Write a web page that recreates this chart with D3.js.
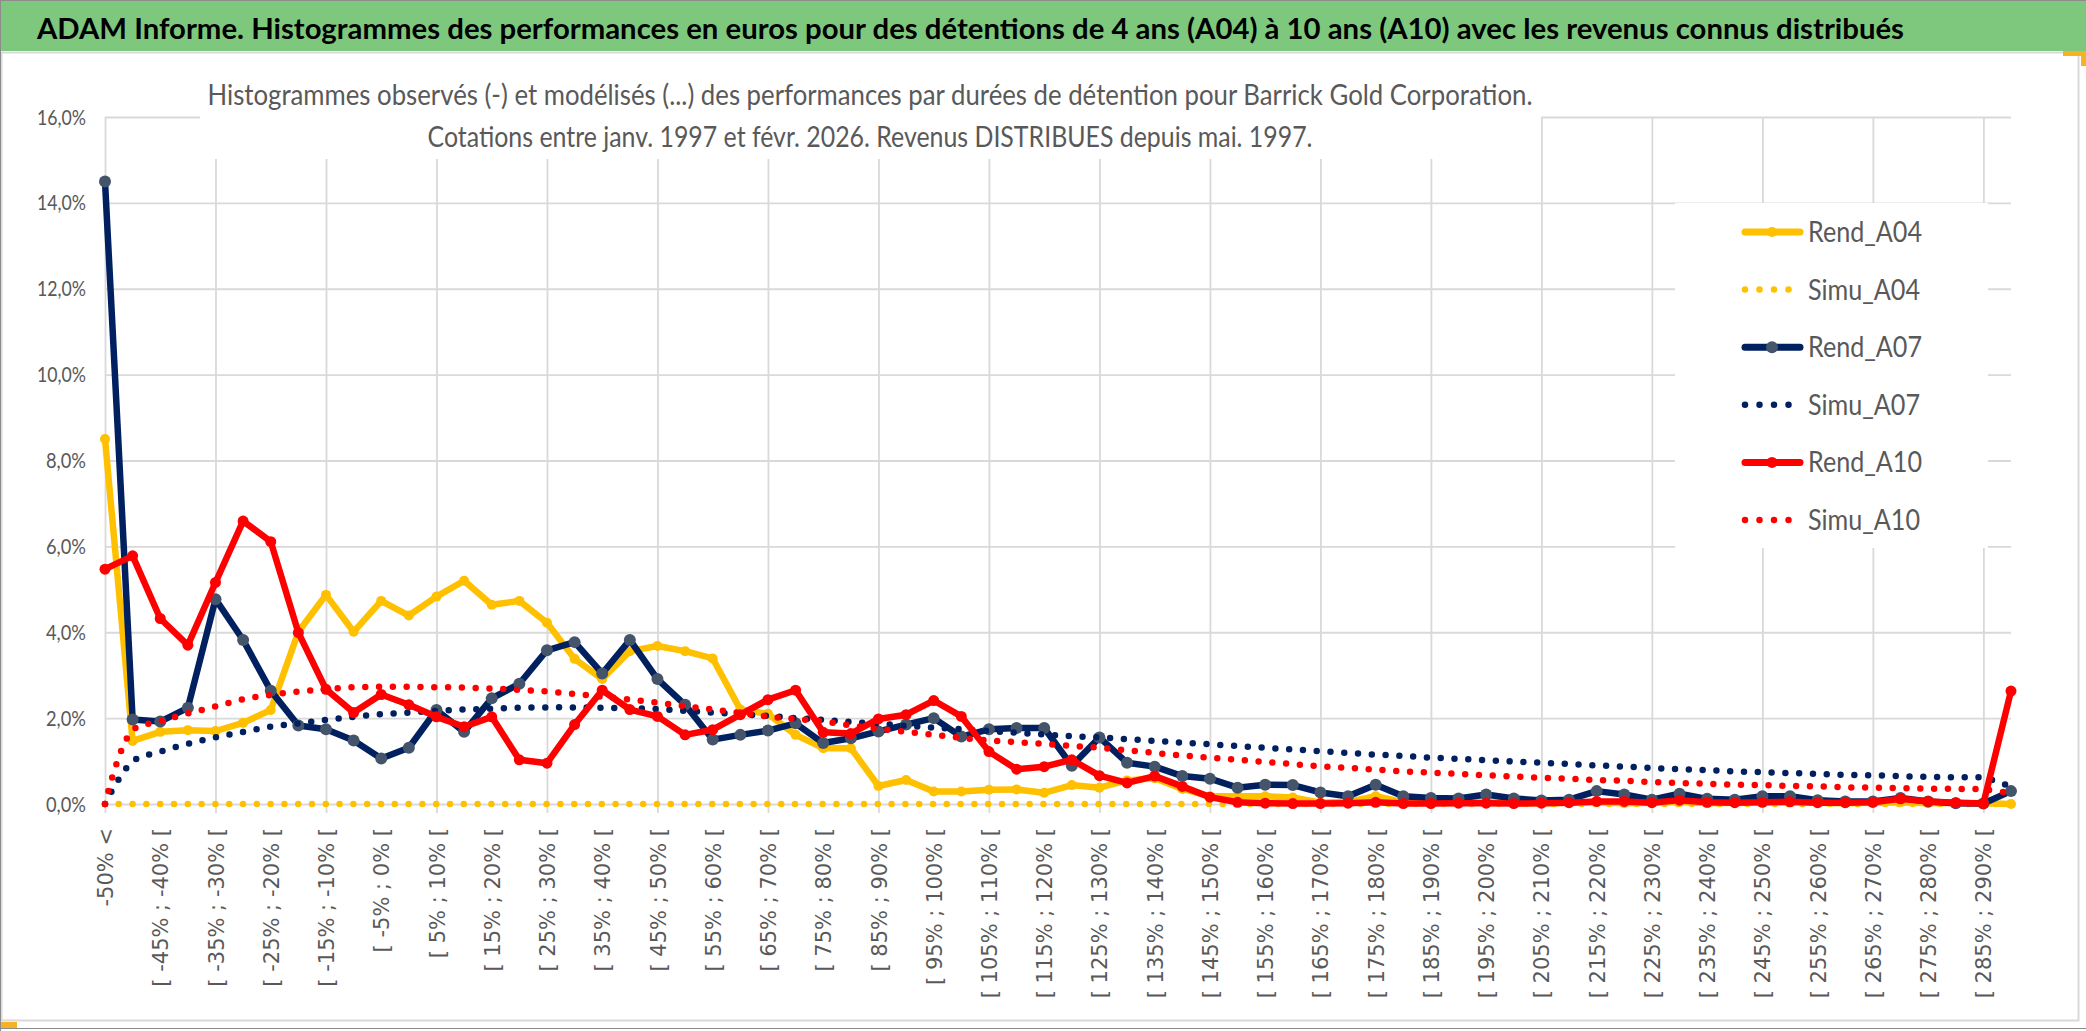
<!DOCTYPE html>
<html>
<head>
<meta charset="utf-8">
<script src="https://cdn.jsdelivr.net/npm/d3@7/dist/d3.min.js"></script>
<style>
  body { margin: 0; background: #fff; }
  svg text { font-family: Lato, "Liberation Sans", sans-serif; }
</style>
</head>
<body>
<script>
// category labels (only every other one is shown on the axis)
const categories = [
  "-50% <",
  "[ -50% ; -45% [", "[ -45% ; -40% [", "[ -40% ; -35% [", "[ -35% ; -30% [", "[ -30% ; -25% [",
  "[ -25% ; -20% [", "[ -20% ; -15% [", "[ -15% ; -10% [", "[ -10% ; -5% [", "[ -5% ; 0% [",
  "[ 0% ; 5% [", "[ 5% ; 10% [", "[ 10% ; 15% [", "[ 15% ; 20% [", "[ 20% ; 25% [",
  "[ 25% ; 30% [", "[ 30% ; 35% [", "[ 35% ; 40% [", "[ 40% ; 45% [", "[ 45% ; 50% [",
  "[ 50% ; 55% [", "[ 55% ; 60% [", "[ 60% ; 65% [", "[ 65% ; 70% [", "[ 70% ; 75% [",
  "[ 75% ; 80% [", "[ 80% ; 85% [", "[ 85% ; 90% [", "[ 90% ; 95% [", "[ 95% ; 100% [",
  "[ 100% ; 105% [", "[ 105% ; 110% [", "[ 110% ; 115% [", "[ 115% ; 120% [", "[ 120% ; 125% [",
  "[ 125% ; 130% [", "[ 130% ; 135% [", "[ 135% ; 140% [", "[ 140% ; 145% [", "[ 145% ; 150% [",
  "[ 150% ; 155% [", "[ 155% ; 160% [", "[ 160% ; 165% [", "[ 165% ; 170% [", "[ 170% ; 175% [",
  "[ 175% ; 180% [", "[ 180% ; 185% [", "[ 185% ; 190% [", "[ 190% ; 195% [", "[ 195% ; 200% [",
  "[ 200% ; 205% [", "[ 205% ; 210% [", "[ 210% ; 215% [", "[ 215% ; 220% [", "[ 220% ; 225% [",
  "[ 225% ; 230% [", "[ 230% ; 235% [", "[ 235% ; 240% [", "[ 240% ; 245% [", "[ 245% ; 250% [",
  "[ 250% ; 255% [", "[ 255% ; 260% [", "[ 260% ; 265% [", "[ 265% ; 270% [", "[ 270% ; 275% [",
  "[ 275% ; 280% [", "[ 280% ; 285% [", "[ 285% ; 290% [", "> 290%"
]

// values in %
const rendA04 = [8.5, 1.47, 1.68, 1.72, 1.70, 1.89, 2.19, 4.01, 4.87, 4.01,
  4.73, 4.39, 4.83, 5.2, 4.64, 4.73, 4.22, 3.38, 2.91, 3.56,
  3.68, 3.56, 3.39, 2.2, 2.1, 1.61, 1.3, 1.3, 0.42, 0.56,
  0.29, 0.29, 0.33, 0.34, 0.26, 0.44, 0.38, 0.55, 0.6, 0.35,
  0.18, 0.18, 0.18, 0.15, 0.03, 0.05, 0.18, 0.04, 0.03, 0.03,
  0.05, 0.03, 0.02, 0.03, 0.04, 0.02, 0.03, 0.05, 0.02, 0.03,
  0.04, 0.05, 0.03, 0.02, 0.03, 0.04, 0.02, 0.03, 0.02, 0.0]

const simuA04 = [0, 0, 0, 0, 0, 0, 0, 0, 0, 0,
  0, 0, 0, 0, 0, 0, 0, 0, 0, 0,
  0, 0, 0, 0, 0, 0, 0, 0, 0, 0,
  0, 0, 0, 0, 0, 0, 0, 0, 0, 0,
  0, 0, 0, 0, 0, 0, 0, 0, 0, 0,
  0, 0, 0, 0, 0, 0, 0, 0, 0, 0,
  0, 0, 0, 0, 0, 0, 0, 0, 0, 0]

const rendA07 = [14.5, 1.97, 1.92, 2.24, 4.77, 3.82, 2.64, 1.83, 1.74, 1.48,
  1.06, 1.31, 2.19, 1.68, 2.46, 2.8, 3.58, 3.77, 3.04, 3.82,
  2.91, 2.31, 1.5, 1.61, 1.71, 1.88, 1.42, 1.53, 1.69, 1.85,
  2.0, 1.57, 1.74, 1.77, 1.77, 0.89, 1.55, 0.96, 0.87, 0.65,
  0.59, 0.38, 0.45, 0.44, 0.27, 0.18, 0.45, 0.18, 0.14, 0.13,
  0.22, 0.13, 0.08, 0.1, 0.3, 0.22, 0.1, 0.24, 0.12, 0.1,
  0.18, 0.18, 0.09, 0.06, 0.06, 0.14, 0.06, 0.02, 0.01, 0.3]

const simuA07 = [0, 0.99, 1.22, 1.4, 1.55, 1.68, 1.8, 1.88, 1.96, 2.03,
  2.09, 2.13, 2.17, 2.2, 2.22, 2.24, 2.25, 2.25, 2.24, 2.23,
  2.21, 2.17, 2.13, 2.09, 2.05, 2.0, 1.96, 1.91, 1.87, 1.82,
  1.78, 1.74, 1.7, 1.66, 1.62, 1.58, 1.55, 1.51, 1.47, 1.43,
  1.39, 1.35, 1.31, 1.27, 1.23, 1.19, 1.15, 1.12, 1.08, 1.05,
  1.02, 0.99, 0.96, 0.93, 0.9, 0.87, 0.84, 0.81, 0.79, 0.76,
  0.74, 0.72, 0.7, 0.68, 0.67, 0.65, 0.63, 0.62, 0.61, 0.4]

const rendA10 = [5.47, 5.78, 4.32, 3.7, 5.16, 6.59, 6.11, 3.99, 2.67, 2.13,
  2.55, 2.31, 2.03, 1.8, 2.03, 1.03, 0.95, 1.85, 2.65, 2.2,
  2.04, 1.61, 1.73, 2.08, 2.43, 2.65, 1.67, 1.64, 1.98, 2.08,
  2.41, 2.04, 1.22, 0.81, 0.87, 1.03, 0.66, 0.49, 0.65, 0.41,
  0.16, 0.04, 0.02, 0.01, 0.01, 0.02, 0.04, 0.01, 0.01, 0.02,
  0.02, 0.01, 0.02, 0.03, 0.06, 0.06, 0.03, 0.09, 0.04, 0.03,
  0.04, 0.05, 0.03, 0.03, 0.04, 0.12, 0.06, 0.03, 0.01, 2.63]

const simuA10 = [0, 1.72, 1.92, 2.11, 2.27, 2.44, 2.54, 2.62, 2.67, 2.72,
  2.73, 2.73, 2.72, 2.71, 2.69, 2.66, 2.62, 2.56, 2.5, 2.43,
  2.36, 2.28, 2.2, 2.12, 2.04, 1.98, 1.92, 1.83, 1.75, 1.68,
  1.61, 1.54, 1.48, 1.44, 1.4, 1.35, 1.31, 1.25, 1.19, 1.13,
  1.08, 1.03, 0.98, 0.93, 0.88, 0.84, 0.8, 0.76, 0.73, 0.7,
  0.67, 0.64, 0.61, 0.59, 0.56, 0.54, 0.51, 0.49, 0.47, 0.45,
  0.44, 0.42, 0.41, 0.39, 0.38, 0.37, 0.36, 0.35, 0.34, 0.25]

const yTicks = [0, 2, 4, 6, 8, 10, 12, 14, 16]

const series = [
  {name: "Rend_A04", values: rendA04, color: "#FFC000", marker: "#FFC000", r: 5, dotted: false},
  {name: "Simu_A04", values: simuA04, color: "#FFC000", dotted: true},
  {name: "Rend_A07", values: rendA07, color: "#002060", marker: "#44546A", r: 6, dotted: false},
  {name: "Simu_A07", values: simuA07, color: "#002060", dotted: true},
  {name: "Rend_A10", values: rendA10, color: "#FF0000", marker: "#FF0000", r: 5.5, dotted: false},
  {name: "Simu_A10", values: simuA10, color: "#FF0000", dotted: true}
]

const W = 2086, H = 1031
const svg = d3.select("body").append("svg")
    .attr("width", W)
    .attr("height", H)

// frame + header band
svg.append("rect").attr("x", 0).attr("y", 0).attr("width", W).attr("height", H).attr("fill", "#fff")
svg.append("rect").attr("x", 0).attr("y", 0).attr("width", W).attr("height", 51).attr("fill", "#7ec87e")
svg.append("line").attr("x1", 0).attr("x2", W).attr("y1", 0.5).attr("y2", 0.5).attr("stroke", "#8c8c8c")
svg.append("rect").attr("x", 1.5).attr("y", 52.5).attr("width", 2077).attr("height", 968)
    .attr("fill", "none").attr("stroke", "#d9d9d9").attr("stroke-width", 2)
svg.append("line").attr("x1", 0.5).attr("x2", 0.5).attr("y1", 0).attr("y2", H).attr("stroke", "#8c8c8c")
svg.append("line").attr("x1", 0).attr("x2", W).attr("y1", 1028.5).attr("y2", 1028.5).attr("stroke", "#8c8c8c")
// selection handles
svg.append("path").attr("d", "M2063,51 H2086 V66 H2081 V56 H2063 Z").attr("fill", "#f5b324")
svg.append("rect").attr("x", 1).attr("y", 1022).attr("width", 16).attr("height", 6).attr("fill", "#f5b324")

svg.append("text")
    .attr("x", 37).attr("y", 39)
    .attr("textLength", 1867).attr("lengthAdjust", "spacingAndGlyphs")
    .attr("font-size", 28).attr("font-weight", "bold").attr("fill", "#000")
    .text("ADAM Informe. Histogrammes des performances en euros pour des détentions de 4 ans (A04) à 10 ans (A10) avec les revenus connus distribués")

// scales
const x = d3.scalePoint().domain(categories).range([105, 2011])
const y = d3.scaleLinear().domain([0, 16]).range([804, 117])
const fmt = d => d3.format(".1f")(d).replace(".", ",") + "%"

// horizontal grid + y labels
const yAxis = svg.append("g")
    .attr("transform", "translate(105,0)")
    .call(d3.axisLeft(y).tickValues(yTicks).tickSize(-(2011 - 105)).tickPadding(19).tickFormat(fmt))
yAxis.select(".domain").remove()
yAxis.selectAll("line").attr("stroke", "#d9d9d9").attr("stroke-width", 1.8)
yAxis.selectAll("text")
    .attr("font-size", 22).attr("fill", "#595959")
    .attr("textLength", d => d >= 10 ? 49 : 40).attr("lengthAdjust", "spacingAndGlyphs")
    .style("font-family", "Lato, sans-serif")

// vertical grid every 4 categories, extending below the axis as ticks
const xGrid = svg.append("g")
    .attr("transform", "translate(0,813)")
    .call(d3.axisBottom(x).tickValues(categories.filter((d, i) => i % 4 === 0)).tickSize(-(813 - 117)).tickFormat(""))
xGrid.select(".domain").remove()
xGrid.selectAll("line").attr("stroke", "#d9d9d9").attr("stroke-width", 1.8)

// x labels
const xAxis = svg.append("g")
    .attr("transform", "translate(0,804)")
    .call(d3.axisBottom(x).tickValues(categories.filter((d, i) => i % 2 === 0)).tickSize(0))
xAxis.select(".domain").remove()
xAxis.selectAll("text")
    .attr("transform", "rotate(-90)")
    .attr("x", -24).attr("y", 0).attr("dy", "0.36em")
    .attr("text-anchor", "end")
    .attr("font-size", 21).attr("fill", "#595959")
    .style("font-family", '"DejaVu Sans", Verdana, sans-serif')

// white box behind chart title
svg.append("rect").attr("x", 200).attr("y", 60).attr("width", 1341).attr("height", 99).attr("fill", "#fff")
svg.append("text").attr("x", 870).attr("y", 105).attr("text-anchor", "middle")
    .attr("textLength", 1325).attr("lengthAdjust", "spacingAndGlyphs")
    .attr("font-size", 28).attr("fill", "#595959")
    .text("Histogrammes observés (-) et modélisés (...) des performances par durées de détention pour Barrick Gold Corporation.")
svg.append("text").attr("x", 870).attr("y", 147).attr("text-anchor", "middle")
    .attr("textLength", 885).attr("lengthAdjust", "spacingAndGlyphs")
    .attr("font-size", 28).attr("fill", "#595959")
    .text("Cotations entre janv. 1997 et févr. 2026. Revenus DISTRIBUES depuis mai. 1997.")

// series
const plot = svg.append("g")
series.forEach(s => {
  const pts = s.values.map((v, i) => [x(categories[i]), y(v)])
  if (s.dotted) {
    plot.append("path")
        .attr("d", d3.line().curve(d3.curveCatmullRom.alpha(0.5))(pts))
        .attr("fill", "none")
        .attr("stroke", s.color)
        .attr("stroke-width", 6.5)
        .attr("stroke-linecap", "round")
        .attr("stroke-dasharray", "0 13.8")
  } else {
    plot.append("path")
        .attr("d", d3.line()(pts))
        .attr("fill", "none")
        .attr("stroke", s.color)
        .attr("stroke-width", 6.5)
        .attr("stroke-linejoin", "round")
    plot.selectAll(null)
        .data(pts)
        .enter()
        .append("circle")
            .attr("cx", d => d[0])
            .attr("cy", d => d[1])
            .attr("r", s.r)
            .attr("fill", s.marker)
  }
})

// legend
const legend = svg.append("g")
legend.append("rect").attr("x", 1675).attr("y", 203).attr("width", 313).attr("height", 345).attr("fill", "#fff")
const legendY = d3.scalePoint().domain(series.map(s => s.name)).range([232, 520])
series.forEach(s => {
  const ly = legendY(s.name)
  const ln = legend.append("line")
      .attr("x1", 1745).attr("x2", 1800).attr("y1", ly).attr("y2", ly)
      .attr("stroke", s.color).attr("stroke-linecap", "round")
  if (s.dotted) {
    ln.attr("stroke-width", 6.5).attr("stroke-dasharray", "0 14.5")
  } else {
    ln.attr("stroke-width", 7)
    legend.append("circle").attr("cx", 1772).attr("cy", ly).attr("r", s.r).attr("fill", s.marker)
  }
  legend.append("text")
      .attr("x", 1808).attr("y", ly + 10)
      .attr("font-size", 28).attr("fill", "#595959")
      .attr("textLength", s.dotted ? 112 : 114).attr("lengthAdjust", "spacingAndGlyphs")
      .text(s.name)
})
</script>
</body>
</html>
